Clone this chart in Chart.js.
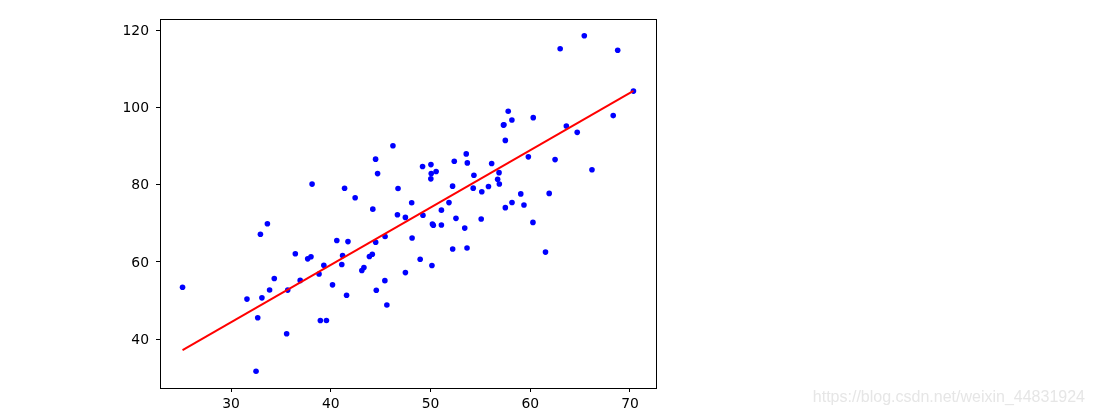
<!DOCTYPE html>
<html>
<head>
<meta charset="utf-8">
<script src="https://cdn.jsdelivr.net/npm/chart.js@4/dist/chart.umd.min.js"></script>
<style>
html,body{margin:0;padding:0;background:#fff;overflow:hidden;}
canvas{display:block;}
</style>
</head>
<body>
<canvas id="c" width="1093" height="416"></canvas>
<script>
// Scatter data (x, y)
const xValues = [32.50,53.43,61.53,47.48,59.81,55.14,52.21,39.30,48.11,52.55,45.42,54.35,44.16,58.17,56.73,48.96,44.69,60.30,45.62,38.82,66.19,65.42,47.48,41.58,51.85,59.37,57.31,63.62,46.74,50.56,52.22,35.57,42.44,58.16,57.50,45.44,61.90,33.09,36.44,37.68,44.56,43.32,50.07,43.87,63.00,32.67,40.17,53.58,33.86,64.71,38.12,44.50,40.60,41.72,51.09,55.08,41.38,62.49,49.20,41.10,41.18,50.19,52.38,50.14,33.64,39.56,56.13,57.36,60.27,35.68,31.59,53.66,46.68,43.11,70.35,44.49,57.50,36.93,55.81,38.95,56.90,56.87,34.33,59.05,57.79,54.28,51.09,50.28,44.21,38.01,32.94,53.69,68.77,46.23,68.32,50.03,49.24,50.04,48.15,25.13];
const yValues = [31.71,68.78,62.56,71.55,87.23,78.21,79.64,59.17,75.33,71.30,55.17,82.48,62.01,75.39,81.44,60.72,82.89,97.38,48.85,56.88,83.88,118.59,57.25,51.39,75.38,74.77,95.46,95.23,79.05,83.43,63.36,41.41,76.62,96.77,74.08,66.59,77.77,50.72,62.12,60.81,52.68,58.57,82.91,61.42,115.24,45.57,54.08,87.99,52.73,93.58,80.17,65.10,65.56,65.28,73.43,71.14,79.10,86.52,84.74,59.36,61.68,69.85,86.10,59.11,69.90,44.86,85.50,95.54,70.25,52.72,50.39,63.64,72.25,57.81,104.26,86.64,91.49,55.23,79.55,44.85,80.21,83.14,55.72,77.63,99.05,79.12,69.59,69.51,73.69,61.37,67.17,85.67,114.85,90.12,97.92,81.54,72.11,85.23,66.22,53.45];
// Fitted line endpoints
const lineX = [25.13, 70.35];
const lineY = [37.2, 104.3];
// Tick labels
const xTicks = [30, 40, 50, 60, 70];
const yTicks = [40, 60, 80, 100, 120];
const watermark = "https://blog.csdn.net/weixin_44831924";

const scatterPts = xValues.map((x, i) => ({x: x, y: yValues[i]}));
const linePts = lineX.map((x, i) => ({x: x, y: lineY[i]}));

function pad5(arr) {
  const mn = Math.min(...arr), mx = Math.max(...arr);
  const m = (mx - mn) * 0.05;
  return [mn - m, mx + m];
}
const allX = xValues.concat(lineX), allY = yValues.concat(lineY);
const [xMin, xMax] = pad5(allX);
const [yMin, yMax] = pad5(allY);

const FONT = {family: "'DejaVu Sans', sans-serif", size: 13.9};

const framePlugin = {
  id: 'frame',
  afterDatasetsDraw(chart) {
    const {ctx, chartArea: a} = chart;
    ctx.save();
    ctx.strokeStyle = '#000';
    ctx.lineWidth = 1;
    ctx.strokeRect(Math.round(a.left) + 0.5, Math.round(a.top) + 0.5, Math.round(a.right - a.left), Math.round(a.bottom - a.top));
    ctx.restore();
  },
  afterDraw(chart) {
    const ctx = chart.ctx;
    ctx.save();
    ctx.fillStyle = '#e6e6e6';
    ctx.font = "16px 'Liberation Sans', Arial, sans-serif";
    ctx.textAlign = 'right';
    ctx.textBaseline = 'middle';
    ctx.fillText(watermark, 1085, 398);
    ctx.restore();
  }
};

new Chart(document.getElementById('c'), {
  type: 'scatter',
  data: {
    datasets: [
      {
        type: 'line',
        data: linePts,
        borderColor: '#ff0000',
        borderWidth: 2,
        pointRadius: 0,
        fill: false,
        order: 0
      },
      {
        data: scatterPts,
        backgroundColor: '#0000ff',
        borderWidth: 0,
        pointRadius: 2.8,
        order: 1
      }
    ]
  },
  options: {
    responsive: false,
    animation: false,
    events: [],
    layout: {padding: {left: 0, top: 19, right: 437, bottom: 0}},
    plugins: {legend: {display: false}, tooltip: {enabled: false}},
    scales: {
      x: {
        type: 'linear',
        min: xMin, max: xMax,
        afterBuildTicks: s => { s.ticks = xTicks.map(v => ({value: v})); },
        afterFit: s => { s.height = 28; },
        grid: {drawOnChartArea: false, drawTicks: true, tickLength: 4, color: '#000'},
        border: {display: true, color: '#000', width: 1},
        ticks: {color: '#000', font: FONT, padding: 4, maxRotation: 0}
      },
      y: {
        type: 'linear',
        min: yMin, max: yMax,
        afterBuildTicks: s => { s.ticks = yTicks.map(v => ({value: v})); },
        afterFit: s => { s.width = 160; },
        grid: {drawOnChartArea: false, drawTicks: true, tickLength: 4, color: '#000'},
        border: {display: true, color: '#000', width: 1},
        ticks: {color: '#000', font: FONT, padding: 7, labelOffset: 1}
      }
    }
  },
  plugins: [framePlugin]
});
</script>
</body>
</html>
